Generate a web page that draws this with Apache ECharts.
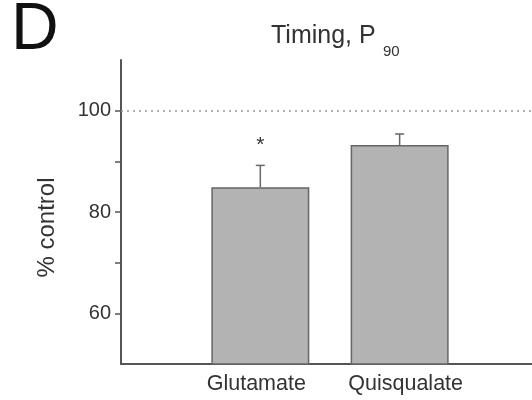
<!DOCTYPE html>
<html>
<head>
<meta charset="utf-8">
<script src="https://cdn.jsdelivr.net/npm/echarts@6/dist/echarts.min.js"></script>
<style>
html,body{margin:0;padding:0;background:#fff;}
#main{width:532px;height:400px;}
</style>
</head>
<body>
<div id="main"></div>
<script>
var categories = ['Glutamate', 'Quisqualate'];
var means = [84.9, 93.2];
var sems = [4.3, 2.2];
var marks = ['*', ''];
var yTickLabels = [60, 80, 100];
var yTicks = [60, 70, 80, 90, 100];
var refValue = 100;

var positions = categories.map(function (c, i) { return i + 1; });
var barData = categories.map(function (c, i) { return [positions[i], means[i]]; });
var errData = categories.map(function (c, i) { return [positions[i], means[i], sems[i], marks[i]]; });

var chart = echarts.init(document.getElementById('main'), null, {renderer: 'canvas'});
var font = 'Liberation Sans, Arial, sans-serif';
chart.setOption({
  animation: false,
  backgroundColor: '#fff',
  graphic: [
    {type: 'text', left: 11, top: -2, style: {text: 'D', font: '66px ' + font, fill: '#111'}},
    {type: 'text', left: 271, top: 24, style: {text: 'Timing, P', font: '25px ' + font, fill: '#333'}},
    {type: 'text', left: 383, top: 44, style: {text: '90', font: '15px ' + font, fill: '#333'}}
  ],
  grid: {left: 121, right: 0, top: 60, bottom: 36, containLabel: false},
  xAxis: {
    type: 'value',
    min: 0, max: 2.95,
    axisLine: {show: true, lineStyle: {color: '#555', width: 2}},
    axisTick: {show: false},
    axisLabel: {fontSize: 21.5, color: '#333', fontFamily: font, margin: 9, customValues: positions,
      formatter: function (v) {
        var i = Math.round(v) - 1;
        return categories[i] ? '{c' + i + '|' + categories[i] + '}' : '';
      },
      rich: {
        c0: {fontSize: 21.5, color: '#333', fontFamily: font, padding: [0, 8, 0, 0]},
        c1: {fontSize: 21.5, color: '#333', fontFamily: font, padding: [0, 0, 0, 12]}
      }
    },
    splitLine: {show: false}
  },
  yAxis: {
    type: 'value',
    min: 50, max: 110, interval: 10,
    name: '% control',
    nameLocation: 'middle',
    nameGap: 62,
    nameRotate: 90,
    nameTextStyle: {fontSize: 24, color: '#333', fontFamily: font, padding: [0, 31, 0, 0]},
    axisLine: {show: true, lineStyle: {color: '#555', width: 2}},
    axisTick: {show: true, length: 6, customValues: yTicks, lineStyle: {color: '#555', width: 1.5}},
    axisLabel: {fontSize: 20, color: '#333', fontFamily: font, margin: 10, customValues: yTickLabels},
    splitLine: {show: false}
  },
  series: [
    {
      type: 'bar',
      data: barData,
      barWidth: 98,
      itemStyle: {color: '#b3b3b3', borderColor: '#666', borderWidth: 1.5},
      markLine: {
        silent: true,
        symbol: ['none', 'none'],
        label: {show: false},
        lineStyle: {color: '#999', type: [2, 4], width: 1.5},
        data: [{yAxis: refValue}]
      }
    },
    {
      type: 'custom',
      data: errData,
      z: 3,
      renderItem: function (params, api) {
        var x = api.value(0), m = api.value(1), e = api.value(2);
        var mk = errData[params.dataIndex][3];
        var p0 = api.coord([x, m]);
        var p1 = api.coord([x, m + e]);
        var style = {stroke: '#666', lineWidth: 1.5};
        var children = [
          {type: 'line', shape: {x1: p0[0], y1: p0[1], x2: p1[0], y2: p1[1]}, style: style},
          {type: 'line', shape: {x1: p1[0] - 4.5, y1: p1[1], x2: p1[0] + 4.5, y2: p1[1]}, style: style}
        ];
        if (mk) {
          children.push({type: 'text', x: p1[0], y: p1[1] - 10,
            style: {text: mk, font: '21px ' + font, fill: '#333', align: 'center', verticalAlign: 'bottom'}});
        }
        return {type: 'group', children: children};
      }
    }
  ]
});
</script>
</body>
</html>
